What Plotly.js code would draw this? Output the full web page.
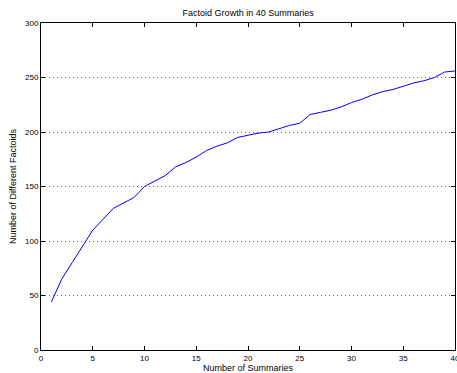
<!DOCTYPE html>
<html>
<head>
<meta charset="utf-8">
<script src="https://cdn.plot.ly/plotly-3.0.1.min.js"></script>
<style>html,body{margin:0;padding:0;background:#fff;}#chart{width:457px;height:373px;}</style>
</head>
<body>
<div id="chart"></div>
<script>
const summaries = [1,2,3,4,5,6,7,8,9,10,11,12,13,14,15,16,17,18,19,20,21,22,23,24,25,26,27,28,29,30,31,32,33,34,35,36,37,38,39,40];
const factoids = [44,65,80,95,110,120,130,135,140,150,155,160,168,172,177,183,187,190,195,197,199,200,203,206,208,216,218,220,223,227,230,234,237,239,242,245,247,250,255,256];
const xTicks = [0,5,10,15,20,25,30,35,40];
const yTicks = [0,50,100,150,200,250,300];

const fontFam = '"Liberation Sans", Arial, Helvetica, sans-serif';
const axisCommon = {
  showline: true, linecolor: '#000', linewidth: 1, mirror: 'ticks',
  ticks: 'inside', ticklen: 4, tickcolor: '#000', tickwidth: 1,
  zeroline: false, ticklabeloverflow: 'allow',
  tickfont: {family: fontFam, size: 8, color: '#000'}
};
Plotly.newPlot('chart', [{
  x: summaries, y: factoids, type: 'scatter', mode: 'lines',
  line: {color: '#0000ff', width: 1}, hoverinfo: 'skip'
}], {
  width: 457, height: 373,
  margin: {l: 41, r: 2, t: 23, b: 23, pad: 0},
  paper_bgcolor: '#fff', plot_bgcolor: '#fff',
  showlegend: false,
  title: {text: 'Factoid Growth in 40 Summaries', font: {family: fontFam, size: 9, color: '#000'}, x: 0.543, xanchor: 'center', y: 0.965, yanchor: 'middle'},
  xaxis: Object.assign({}, axisCommon, {
    range: [0, 40], tickvals: xTicks, ticktext: xTicks.map(String), showgrid: false,
    title: {text: 'Number of Summaries', font: {family: fontFam, size: 9, color: '#000'}, standoff: 2}
  }),
  yaxis: Object.assign({}, axisCommon, {
    range: [0, 300], tickvals: yTicks, ticktext: yTicks.map(String),
    showgrid: true, gridcolor: '#666', gridwidth: 1, griddash: '1px,3px',
    title: {text: 'Number of Different Factoids', font: {family: fontFam, size: 9, color: '#000'}, standoff: 6}
  })
}, {staticPlot: true, displayModeBar: false});
</script>
</body>
</html>
